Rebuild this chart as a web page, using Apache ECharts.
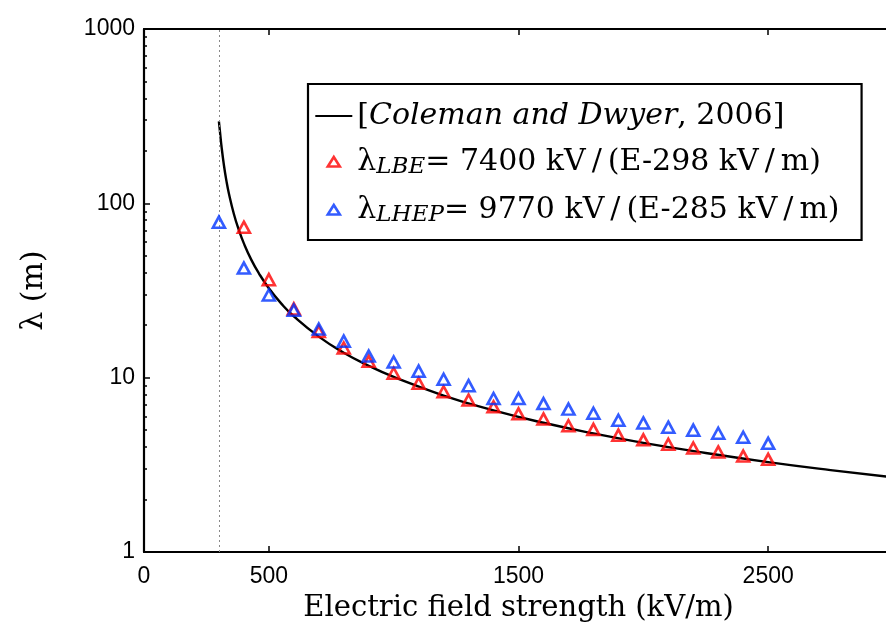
<!DOCTYPE html>
<html>
<head>
<meta charset="utf-8">
<script src="https://cdn.jsdelivr.net/npm/echarts@6/dist/echarts.min.js"></script>
<style>html,body{margin:0;padding:0;background:#fff;}#c{width:886px;height:624px;}</style>
</head>
<body>
<div id="c"></div>
<script>
// Coleman and Dwyer (2006) curve
const curveE   = [300, 305, 310, 320, 330, 340, 360, 380, 400, 430, 460, 500, 550, 600, 700, 800, 900, 1000, 1200, 1400, 1600, 1800, 2000, 2250, 2500, 2750, 3000];
const curveLam = [295, 252, 215, 166, 135, 114, 86.9, 70.2, 58.9, 47.4, 39.7, 32.6, 26.6, 22.5, 17.2, 13.9, 11.7, 10.1, 7.90, 6.49, 5.51, 4.79, 4.23, 3.70, 3.28, 2.95, 2.68];

// lambda_LBE (red)
const lbeE   = [400, 500, 600, 700, 800, 900, 1000, 1100, 1200, 1300, 1400, 1500, 1600, 1700, 1800, 1900, 2000, 2100, 2200, 2300, 2400, 2500];
const lbeLam = [73, 36.5, 24.8, 18.4, 14.8, 12.4, 10.6, 9.3, 8.3, 7.45, 6.8, 6.2, 5.8, 5.3, 5.05, 4.68, 4.4, 4.15, 3.95, 3.75, 3.55, 3.4];

// lambda_LHEP (blue)
const lhepE   = [300, 400, 500, 600, 700, 800, 900, 1000, 1100, 1200, 1300, 1400, 1500, 1600, 1700, 1800, 1900, 2000, 2100, 2200, 2300, 2400, 2500];
const lhepLam = [78, 42.5, 29.8, 24.4, 19.0, 16.2, 13.3, 12.3, 10.9, 9.8, 9.0, 7.6, 7.6, 7.1, 6.6, 6.25, 5.7, 5.5, 5.2, 5.0, 4.8, 4.55, 4.2];

// axis ticks
const xLabelValues = [0, 500, 1500, 2500];
const xTickValues  = [500, 1500, 2500];
const yMinorTicks  = [2,3,4,5,6,7,8,9,20,30,40,50,60,70,80,90,200,300,400,500,600,700,800,900];
const thresholdE = 300;

const zip = (a, b) => a.map((v, i) => [v, b[i]]);

const chart = echarts.init(document.getElementById('c'), null, {renderer: 'canvas'});
const serif = "'DejaVu Serif', 'Liberation Serif', serif";
const sans = "'Liberation Sans', Arial, Helvetica, sans-serif";
const red = '#ff0000', blue = '#0033ff';

const lineIcon = 'path://M0,0 M37,11 M0,4.6 L37,4.6 L37,6.4 L0,6.4 Z';
const triIcon  = 'path://M0,0 M37,11 M12.5,10 L18.5,0.5 L24.5,10 Z';

const option = {
  animation: false,
  backgroundColor: '#ffffff',
  grid: {left: 144, top: 29, right: -7, bottom: 72, containLabel: false, outerBoundsMode: 'none'},
  xAxis: [{
    type: 'value', min: 0, max: 3000, position: 'bottom',
    name: 'Electric field strength (kV/m)', nameLocation: 'middle', nameGap: 42,
    nameTextStyle: {fontFamily: serif, fontSize: 29, color: '#000'},
    axisLine: {show: true, onZero: false, lineStyle: {color: '#000', width: 2.2}},
    axisTick: {show: true, inside: true, length: 6, lineStyle: {color: '#000', width: 1.5}, customValues: xTickValues},
    axisLabel: {show: true, fontFamily: sans, fontSize: 23, color: '#000', margin: 13, customValues: xLabelValues,
                formatter: v => String(v)},
    splitLine: {show: false}
  }, {
    type: 'value', min: 0, max: 3000, position: 'top',
    axisLine: {show: true, onZero: false, lineStyle: {color: '#000', width: 2.2}},
    axisTick: {show: true, inside: true, length: 6, lineStyle: {color: '#000', width: 1.5}, customValues: xTickValues},
    axisLabel: {show: false},
    splitLine: {show: false}
  }],
  yAxis: [{
    type: 'log', logBase: 10, min: 1, max: 1000, position: 'left',
    name: 'λ (m)', nameLocation: 'middle', nameGap: 95, nameRotate: 90,
    nameTextStyle: {fontFamily: serif, fontSize: 30, color: '#000'},
    axisLine: {show: true, onZero: false, lineStyle: {color: '#000', width: 2.2}},
    axisTick: {show: true, inside: true, length: 6, lineStyle: {color: '#000', width: 1.5}},
    axisLabel: {show: true, fontFamily: sans, fontSize: 23, color: '#000', margin: 9, formatter: v => String(v)},
    splitLine: {show: false}
  }, {
    type: 'log', logBase: 10, min: 1, max: 1000, position: 'left',
    axisLine: {show: false},
    axisTick: {show: true, inside: true, length: 3, lineStyle: {color: '#000', width: 1.5}, customValues: yMinorTicks},
    axisLabel: {show: false},
    splitLine: {show: false}
  }],
  legend: {
    orient: 'vertical', left: 308, top: 84,
    padding: [17, 22, 13, 6],
    itemGap: 11, itemWidth: 37, itemHeight: 11,
    borderColor: '#000', borderWidth: 2.2, backgroundColor: '#fff',
    data: [
      {name: 'cd', icon: lineIcon},
      {name: 'lbe', icon: triIcon, itemStyle: {borderWidth: 2.6}},
      {name: 'lhep', icon: triIcon, itemStyle: {borderWidth: 2.6}}
    ],
    formatter: function (name) {
      if (name === 'cd') return '{n|[}{i|Coleman and Dwyer}{n|, 2006]}';
      if (name === 'lbe') return '{n|λ}{s|LBE}{n|= 7400 kV\u2009/\u2009(E-298 kV\u2009/\u2009m)}';
      return '{n|λ}{s|LHEP}{n|= 9770 kV\u2009/\u2009(E-285 kV\u2009/\u2009m)}';
    },
    textStyle: {
      color: '#000',
      rich: {
        n: {fontFamily: serif, fontSize: 30, color: '#000', lineHeight: 34},
        i: {fontFamily: serif, fontSize: 30, fontStyle: 'italic', color: '#000', lineHeight: 34},
        s: {fontFamily: serif, fontSize: 23, fontStyle: 'italic', color: '#000', lineHeight: 34, verticalAlign: 'bottom', padding: [14, 0, 0, 0]}
      }
    }
  },
  series: [{
    name: 'cd', type: 'line', xAxisIndex: 0, yAxisIndex: 0,
    data: zip(curveE, curveLam), smooth: true, symbol: 'none',
    lineStyle: {color: '#000', width: 2.4}, itemStyle: {color: '#000'},
    z: 3,
    markLine: {
      silent: true, symbol: 'none', label: {show: false},
      lineStyle: {color: '#888', type: [2, 3], width: 1},
      data: [{xAxis: thresholdE}]
    }
  }, {
    name: 'lbe', type: 'scatter', xAxisIndex: 0, yAxisIndex: 0,
    data: zip(lbeE, lbeLam), symbol: 'triangle', symbolSize: [12, 11],
    itemStyle: {color: 'rgba(0,0,0,0)', borderColor: red, borderWidth: 2.6},
    z: 4
  }, {
    name: 'lhep', type: 'scatter', xAxisIndex: 0, yAxisIndex: 0,
    data: zip(lhepE, lhepLam), symbol: 'triangle', symbolSize: [12, 11],
    itemStyle: {color: 'rgba(0,0,0,0)', borderColor: blue, borderWidth: 2.6},
    z: 5
  }]
};
chart.setOption(option);
</script>
</body>
</html>
